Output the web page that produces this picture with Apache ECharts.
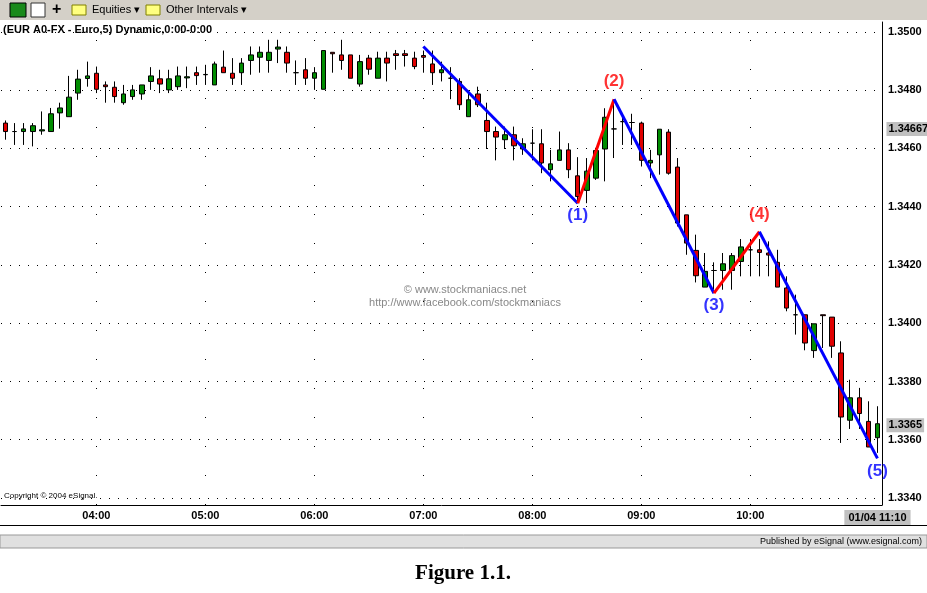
<!DOCTYPE html>
<html><head><meta charset="utf-8">
<script src="https://cdn.jsdelivr.net/npm/echarts@6/dist/echarts.min.js"></script>
<style>html,body{margin:0;padding:0;background:#fff}#c{width:927px;height:593px}</style>
</head><body><div id="c"></div>
<script>
// 5-minute bars, 03:10 .. 11:10 (01/04)
const opens = [1.34687,1.34658,1.34658,1.34658,1.34660,1.34658,1.34722,1.34709,1.34790,1.34840,1.34858,1.34818,1.34810,1.34757,1.34778,1.34787,1.34830,1.34839,1.34801,1.34812,1.34842,1.34860,1.34853,1.34818,1.34879,1.34858,1.34860,1.34902,1.34913,1.34902,1.34941,1.34930,1.34860,1.34870,1.34841,1.34803,1.34930,1.34921,1.34921,1.34821,1.34910,1.34841,1.34910,1.34925,1.34925,1.34910,1.34919,1.34890,1.34860,1.34841,1.34830,1.34709,1.34787,1.34696,1.34658,1.34630,1.34647,1.34598,1.34618,1.34616,1.34527,1.34559,1.34595,1.34506,1.34456,1.34498,1.34598,1.34667,1.34692,1.34689,1.34687,1.34550,1.34578,1.34656,1.34536,1.34372,1.34250,1.34124,1.34181,1.34181,1.34181,1.34212,1.34252,1.34252,1.34241,1.34209,1.34121,1.34029,1.34029,1.33906,1.34029,1.34021,1.33898,1.33667,1.33744,1.33663,1.33607];
const closes = [1.34658,1.34658,1.34667,1.34678,1.34664,1.34719,1.34739,1.34776,1.34838,1.34849,1.34803,1.34812,1.34778,1.34787,1.34801,1.34818,1.34849,1.34821,1.34839,1.34849,1.34846,1.34850,1.34854,1.34890,1.34860,1.34841,1.34893,1.34921,1.34930,1.34930,1.34948,1.34893,1.34860,1.34841,1.34860,1.34936,1.34925,1.34902,1.34841,1.34898,1.34872,1.34910,1.34893,1.34919,1.34919,1.34881,1.34913,1.34860,1.34870,1.34841,1.34750,1.34767,1.34750,1.34658,1.34639,1.34647,1.34609,1.34616,1.34618,1.34550,1.34547,1.34595,1.34527,1.34435,1.34522,1.34593,1.34707,1.34667,1.34692,1.34689,1.34559,1.34559,1.34666,1.34515,1.34344,1.34275,1.34163,1.34178,1.34181,1.34204,1.34232,1.34262,1.34252,1.34243,1.34234,1.34124,1.34052,1.34029,1.33932,1.33998,1.34026,1.33921,1.33678,1.33744,1.33690,1.33575,1.33655];
const lows = [1.34630,1.34612,1.34612,1.34607,1.34647,1.34658,1.34668,1.34709,1.34767,1.34812,1.34790,1.34757,1.34757,1.34750,1.34767,1.34767,1.34801,1.34790,1.34790,1.34801,1.34807,1.34818,1.34818,1.34818,1.34860,1.34818,1.34818,1.34853,1.34860,1.34860,1.34893,1.34860,1.34818,1.34818,1.34801,1.34803,1.34860,1.34870,1.34841,1.34812,1.34853,1.34841,1.34830,1.34870,1.34881,1.34872,1.34860,1.34818,1.34830,1.34769,1.34732,1.34709,1.34742,1.34598,1.34559,1.34598,1.34559,1.34578,1.34559,1.34515,1.34487,1.34559,1.34498,1.34412,1.34412,1.34492,1.34487,1.34567,1.34612,1.34612,1.34538,1.34498,1.34510,1.34510,1.34332,1.34235,1.34140,1.34124,1.34115,1.34115,1.34115,1.34161,1.34161,1.34161,1.34161,1.34124,1.34041,1.33961,1.33907,1.33881,1.33915,1.33881,1.33589,1.33637,1.33637,1.33575,1.33555];
const highs = [1.34696,1.34687,1.34687,1.34687,1.34727,1.34739,1.34757,1.34849,1.34870,1.34898,1.34881,1.34830,1.34830,1.34818,1.34818,1.34818,1.34879,1.34870,1.34870,1.34881,1.34881,1.34881,1.34887,1.34898,1.34936,1.34910,1.34910,1.34950,1.34950,1.34973,1.34973,1.34950,1.34902,1.34910,1.34879,1.34936,1.34930,1.34973,1.34921,1.34921,1.34921,1.34932,1.34932,1.34938,1.34938,1.34932,1.34936,1.34936,1.34898,1.34879,1.34841,1.34799,1.34812,1.34757,1.34675,1.34675,1.34675,1.34635,1.34666,1.34666,1.34595,1.34658,1.34618,1.34570,1.34567,1.34602,1.34738,1.34767,1.34719,1.34719,1.34692,1.34595,1.34666,1.34666,1.34567,1.34372,1.34304,1.34241,1.34209,1.34241,1.34241,1.34289,1.34289,1.34289,1.34281,1.34252,1.34161,1.34098,1.34029,1.33998,1.34029,1.34021,1.33938,1.33806,1.33778,1.33732,1.33715];
// Elliott wave pivots: [bar index, price]
const wavePivots = [[46,1.34950],[63,1.34412],[67,1.34769],[78,1.34103],[83,1.34314],[96,1.33536]];
const waveLabels = ['', '(1)','(2)','(3)','(4)','(5)'];
const yTicks = [1.3340,1.3360,1.3380,1.3400,1.3420,1.3440,1.3460,1.3480,1.3500];
const priceMarkers = ['1.34667', '1.3365'];

const times = [];
for (let i = 0; i < opens.length; i++) {
  const m = 3*60 + 10 + i*5;
  times.push(String(Math.floor(m/60)).padStart(2,'0') + ':' + String(m%60).padStart(2,'0'));
}
const ohlc = opens.map((o,i)=>[o, closes[i], lows[i], highs[i]]);
const lastIdx = times.length - 1;
const hourIdx = times.map((t,i)=>t.endsWith(':00') ? i : -1).filter(i=>i>=0 && i<lastIdx-10);

const waveSeries = [];
for (let k = 0; k < wavePivots.length-1; k++) {
  waveSeries.push({
    type:'line', data:[wavePivots[k], wavePivots[k+1]], symbol:'none', silent:true,
    lineStyle:{color: k%2===0 ? '#0000ff' : '#ff0000', width:3}, z:5
  });
}
const labelPts = wavePivots.slice(1).map((p,k)=>({
  value:p,
  label:{show:true, formatter:waveLabels[k+1], position: k%2===0 ? 'bottom':'top', distance: k%2===0 ? 4 : 9,
    color: k%2===0 ? '#0000ff' : '#ff0000', fontSize:17, fontWeight:'bold', fontFamily:'Liberation Sans, Arial'}
}));

const chart = echarts.init(document.getElementById('c'));
chart.setOption({
  animation:false,
  backgroundColor:'#fff',
  grid:{left:1, right:45, top:22, bottom:88},
  xAxis:{type:'category', data:times, boundaryGap:true,
    axisLine:{lineStyle:{color:'#000'}}, axisTick:{show:false},
    axisLabel:{interval:(i)=>hourIdx.includes(i)||i===lastIdx, fontWeight:'bold', fontSize:11, color:'#000',
      fontFamily:'Liberation Sans, Arial', margin:5,
      formatter:(v,i)=> i===lastIdx ? '{d| 01/04 11:10 }' : v,
      rich:{d:{backgroundColor:'#c0c0c0', fontWeight:'bold', fontSize:11, padding:[2,1], color:'#000'}}},
    splitLine:{show:false}},
  yAxis:{type:'value', position:'right', min:1.33376, max:1.35034,
    axisLine:{show:true, lineStyle:{color:'#000'}},
    axisTick:{show:false, customValues:yTicks},
    splitLine:{show:true, lineStyle:{type:[1,8], color:'#000'}},
    axisLabel:{show:true, customValues:yTicks, formatter:(v)=>v.toFixed(4), color:'#000', fontWeight:'bold',
      fontSize:11, fontFamily:'Liberation Sans', margin:6}},
  graphic:[
    {type:'rect', shape:{x:0,y:0,width:927,height:20}, style:{fill:'#d4d0c8'}},
    {type:'rect', shape:{x:10,y:3,width:16,height:14}, style:{fill:'#1a8a1a', stroke:'#000'}},
    {type:'rect', shape:{x:31,y:3,width:14,height:14}, style:{fill:'#fff', stroke:'#333'}},
    {type:'text', style:{x:52,y:2,text:'+',font:'bold 16px Liberation Sans',fill:'#000'}},
    {type:'rect', shape:{x:72,y:5,width:14,height:10}, style:{fill:'#ffff80', stroke:'#808000'}},
    {type:'text', style:{x:92,y:4,text:'Equities ▾',font:'11px Liberation Sans',fill:'#000'}},
    {type:'rect', shape:{x:146,y:5,width:14,height:10}, style:{fill:'#ffff80', stroke:'#808000'}},
    {type:'text', style:{x:166,y:4,text:'Other Intervals ▾',font:'11px Liberation Sans',fill:'#000'}},
    {type:'text', style:{x:3,y:24,text:'(EUR A0-FX - Euro,5) Dynamic,0:00-0:00',font:'bold 11px Liberation Sans',fill:'#000'}},
    {type:'text', style:{x:465,y:284,text:'© www.stockmaniacs.net',font:'11px Liberation Sans',fill:'#888',align:'center'}},
    {type:'text', style:{x:465,y:297,text:'http://www.facebook.com/stockmaniacs',font:'11px Liberation Sans',fill:'#888',align:'center'}},
    {type:'text', style:{x:4,y:492,text:'Copyright © 2004 eSignal.',font:'8px Liberation Sans',fill:'#000'}},
    {type:'rect', shape:{x:0,y:525,width:927,height:1}, style:{fill:'#000'}},
    {type:'rect', shape:{x:0,y:535,width:927,height:13}, style:{fill:'#e0e0e0', stroke:'#999'}},
    {type:'text', style:{x:922,y:537,text:'Published by eSignal (www.esignal.com)',font:'9px Liberation Sans',fill:'#000',align:'right'}},
    {type:'text', style:{x:463,y:563,text:'Figure 1.1.',font:'bold 21px Liberation Serif',fill:'#000',align:'center'}}
  ],
  series:[
    {type:'candlestick', data:ohlc, barWidth:5, z:3,
      itemStyle:{color:'#008c00', color0:'#e00000', borderColor:'#000', borderColor0:'#000', borderWidth:1},
      markLine:{symbol:'none', silent:true, z:1,
        lineStyle:{type:[1,28], color:'#000', width:1},
        label:{show:false},
        data: hourIdx.map(i=>({xAxis:i}))
      },
      markPoint:{symbol:'rect', symbolSize:0, silent:true, z:10,
        label:{show:true, position:'right', distance:9, color:'#000', fontWeight:'bold', fontSize:11,
          fontFamily:'Liberation Sans', backgroundColor:'#c0c0c0', padding:[2,2,1,2]},
        data: priceMarkers.map(v=>({coord:[lastIdx, Number(v)], label:{formatter:v}}))
      }
    },
    ...waveSeries,
    {type:'scatter', data:labelPts, symbolSize:0, silent:true, z:6}
  ]
});
</script></body></html>
